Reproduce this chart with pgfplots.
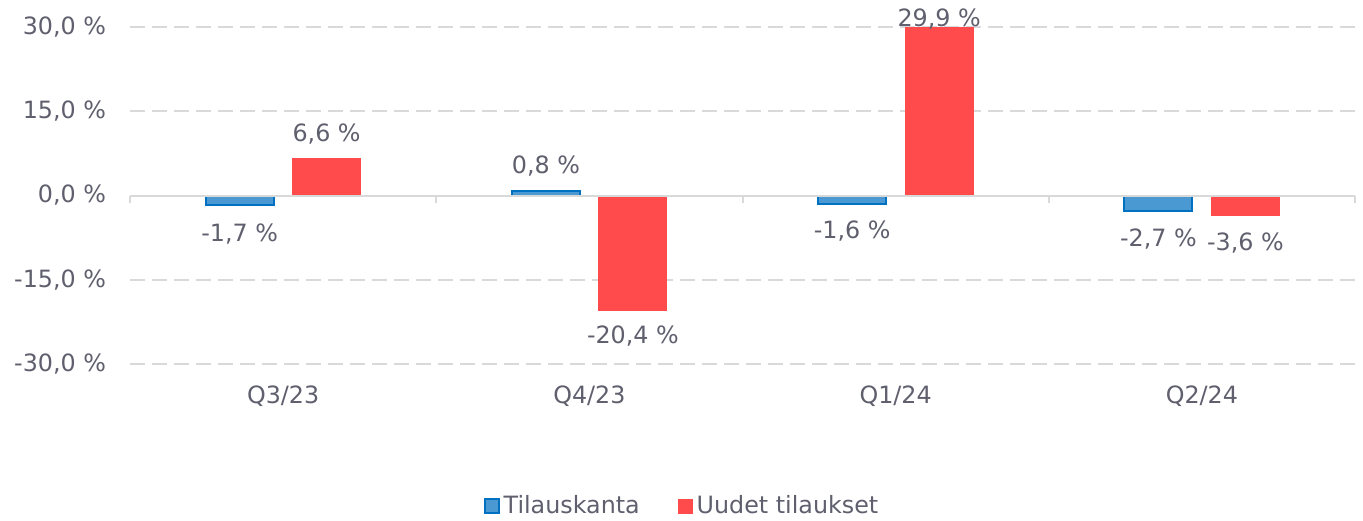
\documentclass[border=0pt]{standalone}
\usepackage{pgfplots}
\pgfplotsset{compat=1.18}
\usepackage{pgfplotstable}
\usepackage{fontspec}
\setmainfont{DejaVu Sans}

\definecolor{txt}{RGB}{95,95,110}
\definecolor{tkblue}{RGB}{75,153,210}
\definecolor{tkedge}{RGB}{0,112,192}
\definecolor{utred}{RGB}{255,75,75}
\definecolor{gridc}{RGB}{217,217,217}

% x = quarter, tk/ut = change in %, tkl/utl = where the value label sits
\pgfplotstableread{
x tk   tkl  ut    utl
0 -1.7 -6.8  6.6  11.0
1  0.8  5.3 -20.4 -25.1
2 -1.6 -6.4  29.9  31.5
3 -2.7 -7.7 -3.6  -8.5
}\datatable

\begin{document}
\begin{tikzpicture}[font=\fontsize{11.9}{14}\selectfont, text=txt]
\path[use as bounding box] (-65pt,-78pt) rectangle (616.5pt,182pt);
\begin{axis}[
    at={(0,0)}, anchor=south west,
    scale only axis, width=612.5pt, height=168.5pt,
    xmin=-0.5, xmax=3.5, ymin=-30, ymax=30,
    axis line style={draw=none}, major tick length=0pt,
    xtick={0,1,2,3}, xticklabels={Q3/23,Q4/23,Q1/24,Q2/24},
    ytick={-30,-15,0,15,30},
    yticklabels={{-30,0 \%},{-15,0 \%},{0,0 \%},{15,0 \%},{30,0 \%}},
    ymajorgrids,
    major grid style={gridc, line width=1pt, dash pattern=on 7.5pt off 3.5pt},
    xticklabel style={yshift=-7.5pt},
    yticklabel style={xshift=-8.5pt},
    clip=false,
    legend style={at={(axis description cs:0.4514,-0.4214)}, anchor=center,
        draw=none, fill=none, legend columns=2, text=txt,
        /tikz/every even column/.append style={column sep=17pt}},
    nodes near coords={\pgfmathprintnumber[fixed,fixed zerofill,precision=1,use comma,assume math mode=true]{\pgfplotspointmeta}~\%},
]
\addplot[ybar, bar width=34pt, bar shift=-21.75pt, fill=tkblue, draw=tkedge, line width=1pt,
    nodes near coords={},
    legend image code/.code={\draw[fill=tkblue, draw=tkedge, line width=1pt] (0pt,-3.5pt) rectangle (7pt,3.5pt);}]
    table[x=x, y=tk]{\datatable};
\addplot[ybar, bar width=34pt, bar shift=21.75pt, fill=utred, draw=utred, line width=0.5pt,
    nodes near coords={},
    legend image code/.code={\draw[fill=utred, draw=utred] (0pt,-3.5pt) rectangle (7pt,3.5pt);}]
    table[x=x, y=ut]{\datatable};
\legend{Tilauskanta, Uudet tilaukset}

% zero line with category separators
\draw[gridc, line width=1pt] (axis cs:-0.5,0) -- (axis cs:3.5,0);
\draw[gridc, line width=1pt] (axis cs:-0.5,0) -- (axis cs:-0.5,-1.4);
\draw[gridc, line width=1pt] (axis cs:0.5,0) -- (axis cs:0.5,-1.4);
\draw[gridc, line width=1pt] (axis cs:1.5,0) -- (axis cs:1.5,-1.4);
\draw[gridc, line width=1pt] (axis cs:2.5,0) -- (axis cs:2.5,-1.4);
\draw[gridc, line width=1pt] (axis cs:3.5,0) -- (axis cs:3.5,-1.4);

% value labels
\addplot[only marks, mark=none, forget plot, point meta=\thisrow{tk},
    every node near coord/.style={anchor=center, xshift=-21.75pt, text=txt}]
    table[x=x, y=tkl]{\datatable};
\addplot[only marks, mark=none, forget plot, point meta=\thisrow{ut},
    every node near coord/.style={anchor=center, xshift=21.75pt, text=txt}]
    table[x=x, y=utl]{\datatable};
\end{axis}
\end{tikzpicture}
\end{document}
